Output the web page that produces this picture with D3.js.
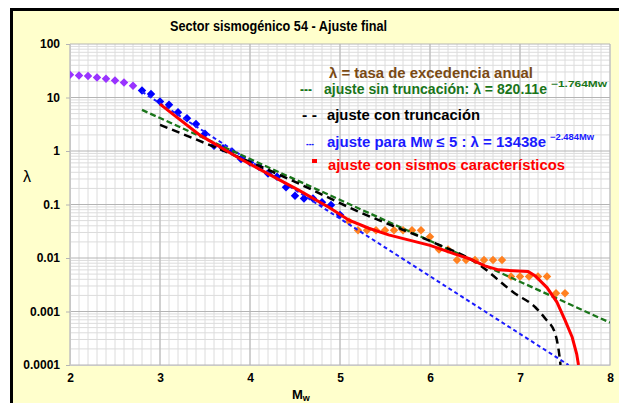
<!DOCTYPE html>
<html>
<head>
<meta charset="utf-8">
<script src="https://cdn.jsdelivr.net/npm/d3@7"></script>
<style>
body { margin: 0; background: #fff; }
text { font-family: "Liberation Sans", Arial, sans-serif; font-weight: bold; }
</style>
</head>
<body>
<script>
var magLow = [2.0, 2.1, 2.2, 2.3, 2.4, 2.5, 2.6, 2.7];
var rateLow = [26.6, 25.8, 25.1, 23.7, 22.4, 20.8, 19.1, 16.5];

var magMid = [2.8, 2.9, 3.0, 3.1, 3.2, 3.3, 3.4, 3.5, 3.6, 3.7, 3.8, 3.9,
  4.0, 4.1, 4.2, 4.3, 4.4, 4.5, 4.6, 4.7, 4.8, 4.9, 5.0];
var rateMid = [13.5, 11.6, 8.4, 7.3, 5.3, 4.1, 3.2, 2.1, 1.25, 1.13, 0.98, 0.71,
  0.61, 0.51, 0.38, 0.33, 0.21, 0.145, 0.13, 0.13, 0.11, 0.098, 0.064];

var magHigh = [5.1, 5.2, 5.3, 5.4, 5.5, 5.6, 5.7, 5.8, 5.9, 6.0, 6.1, 6.2,
  6.3, 6.4, 6.5, 6.6, 6.7, 6.8, 6.9, 7.0, 7.1, 7.2, 7.3, 7.4, 7.5];
var rateHigh = [0.048, 0.033, 0.033, 0.033, 0.033, 0.033, 0.033, 0.033, 0.033, 0.025, 0.0144, 0.0144,
  0.0092, 0.0092, 0.0092, 0.0092, 0.0092, 0.0092, 0.0045, 0.0045, 0.0045, 0.0045, 0.0045, 0.0022, 0.0022];

// fitted curves
var fitFreeMag = [2.8, 8.0];
var fitFreeRate = [5.87, 0.00062];

var fitLowMag = [2.8, 7.54];
var fitLowRate = [12.8, 0.0001];

var fitTruncMag = [3.0, 3.77, 4.45, 5.21, 6.06, 6.5, 6.94, 7.17, 7.28, 7.39, 7.44, 7.45];
var fitTruncRate = [3.08, 0.91, 0.29, 0.073, 0.0188, 0.0085, 0.0022, 0.0012, 0.00074, 0.00039, 0.00014, 0.0001];

var fitCharMag = [3.0, 3.44, 3.88, 4.54, 4.88, 5.1, 5.32, 5.54, 5.77, 6.0, 6.28, 6.43, 6.61, 6.76,
  7.09, 7.17, 7.3, 7.41, 7.5, 7.58, 7.63, 7.65];
var fitCharRate = [7.5, 2.0, 0.73, 0.186, 0.088, 0.051, 0.036, 0.027, 0.0216, 0.0172, 0.0118, 0.0098,
  0.0071, 0.006, 0.0056, 0.0046, 0.0028, 0.0015, 0.00069, 0.00033, 0.00016, 0.0001];

var xTicks = [2, 3, 4, 5, 6, 7, 8];
var yTicks = [0.0001, 0.001, 0.01, 0.1, 1, 10, 100];
var yTickLabels = ["0.0001", "0.001", "0.01", "0.1", "1", "10", "100"];

var margin = {top: 44, left: 70};
var width = 540;
var height = 321;

var svg = d3.select("body")
  .append("svg")
  .attr("width", 619)
  .attr("height", 403);

// outer frame
svg.append("rect")
  .attr("x", 11.5).attr("y", 9.5)
  .attr("width", 620).attr("height", 400)
  .attr("fill", "#FFFFCC")
  .attr("stroke", "#000")
  .attr("stroke-width", 3);

svg.append("text")
  .attr("x", 170).attr("y", 31)
  .attr("font-size", 14.5)
  .attr("textLength", 217)
  .attr("lengthAdjust", "spacingAndGlyphs")
  .text("Sector sismogénico 54 - Ajuste final");

var g = svg.append("g")
  .attr("transform", "translate(" + margin.left + "," + margin.top + ")");

var xScale = d3.scaleLinear().domain([2, 8]).range([0, width]);
var yScale = d3.scaleLog().domain([0.0001, 100]).range([height, 0]);

g.append("rect")
  .attr("width", width).attr("height", height)
  .attr("fill", "#fff");

// grid
var minorX = d3.range(20, 81).map(function(d) { return d / 10; });
var minorY = [];
[-4, -3, -2, -1, 0, 1].forEach(function(e) {
  for (var k = 2; k <= 9; k++) minorY.push(k * Math.pow(10, e));
});

g.selectAll(".minorx").data(minorX).enter().append("line")
  .attr("x1", function(d) { return xScale(d); })
  .attr("x2", function(d) { return xScale(d); })
  .attr("y1", 0).attr("y2", height)
  .attr("stroke", "#dcdcdc").attr("stroke-width", 1);

g.selectAll(".minory").data(minorY).enter().append("line")
  .attr("y1", function(d) { return yScale(d); })
  .attr("y2", function(d) { return yScale(d); })
  .attr("x1", 0).attr("x2", width)
  .attr("stroke", "#dcdcdc").attr("stroke-width", 1);

g.selectAll(".majorx").data(xTicks).enter().append("line")
  .attr("x1", function(d) { return xScale(d); })
  .attr("x2", function(d) { return xScale(d); })
  .attr("y1", 0).attr("y2", height)
  .attr("stroke", "#b4b4b4").attr("stroke-width", 1);

g.selectAll(".majory").data(yTicks).enter().append("line")
  .attr("y1", function(d) { return yScale(d); })
  .attr("y2", function(d) { return yScale(d); })
  .attr("x1", 0).attr("x2", width)
  .attr("stroke", "#b4b4b4").attr("stroke-width", 1);

// axes
var xAxis = d3.axisBottom(xScale).tickValues(xTicks).tickSize(0).tickPadding(8)
  .tickFormat(d3.format("d"));
var yAxis = d3.axisLeft(yScale).tickValues(yTicks).tickSize(4).tickPadding(6)
  .tickFormat(function(d, i) { return yTickLabels[i]; });

var gx = g.append("g")
  .attr("transform", "translate(0," + height + ")")
  .call(xAxis);
var gy = g.append("g").call(yAxis);

[gx, gy].forEach(function(ax) {
  ax.select(".domain").attr("stroke", "#c8c8c8");
  ax.selectAll(".tick line").attr("stroke", "#b4b4b4");
  ax.selectAll("text")
    .attr("font-size", 12)
    .attr("fill", "#000")
    .style("font-family", "\"Liberation Sans\", Arial, sans-serif")
    .style("font-weight", "bold");
});

svg.append("text")
  .attr("x", 23).attr("y", 182)
  .attr("font-size", 16)
  .style("font-weight", "normal")
  .text("λ");

var mw = svg.append("text").attr("x", 292).attr("y", 399).attr("font-size", 13);
mw.append("tspan").text("M");
mw.append("tspan").attr("font-size", 9).attr("dy", 2).text("w");

// markers
var clip = g.append("clipPath").attr("id", "plotclip");
clip.append("rect").attr("width", width).attr("height", height);

var plot = g.append("g").attr("clip-path", "url(#plotclip)");

var diamond = d3.symbol().type(d3.symbolSquare).size(36);

function drawPoints(mags, rates, color) {
  plot.append("g").selectAll("path")
    .data(d3.zip(mags, rates))
    .enter().append("path")
    .attr("d", diamond)
    .attr("fill", color)
    .attr("transform", function(d) {
      return "translate(" + xScale(d[0]) + "," + yScale(d[1]) + ") rotate(45)";
    });
}

drawPoints(magLow, rateLow, "#9933FF");
drawPoints(magMid, rateMid, "#0000FF");
drawPoints(magHigh, rateHigh, "#FF8020");

var line = d3.line()
  .x(function(d) { return xScale(d[0]); })
  .y(function(d) { return yScale(d[1]); });

function drawLine(mags, rates, color, w, dash, curve) {
  plot.append("path")
    .datum(d3.zip(mags, rates))
    .attr("fill", "none")
    .attr("stroke", color)
    .attr("stroke-width", w)
    .attr("stroke-dasharray", dash)
    .attr("d", line.curve(curve || d3.curveLinear));
}

drawLine(fitLowMag, fitLowRate, "#1a1aff", 2, "4,3");
drawLine(fitFreeMag, fitFreeRate, "#1a751a", 2.3, "6,3");
drawLine(fitTruncMag, fitTruncRate, "#000", 2.5, "8,5", d3.curveMonotoneX);
drawLine(fitCharMag, fitCharRate, "#ff0000", 3, null);

// legend
function legendText(x, y, len, color, str, size) {
  return svg.append("text")
    .attr("x", x).attr("y", y)
    .attr("font-size", size || 14.5)
    .attr("fill", color)
    .attr("textLength", len)
    .attr("lengthAdjust", "spacingAndGlyphs")
    .text(str);
}

legendText(329, 78, 204, "#7a4a14", "λ = tasa de excedencia anual");

legendText(300, 94, 12, "#1a751a", "---");
legendText(324, 94, 223, "#1a751a", "ajuste sin truncación: λ = 820.11e");
legendText(551, 87, 56, "#1a751a", "−1.764Mw", 9);

legendText(302, 120, 15, "#000", "- -");
legendText(327, 120, 153, "#000", "ajuste con truncación");

legendText(306, 147, 8, "#1a1aff", "---", 10);
var l4 = svg.append("text")
  .attr("x", 327).attr("y", 147)
  .attr("font-size", 14.5)
  .attr("fill", "#1a1aff")
  .attr("textLength", 219)
  .attr("lengthAdjust", "spacingAndGlyphs");
l4.append("tspan").text("ajuste para M");
l4.append("tspan").attr("font-size", 10).text("W");
l4.append("tspan").text(" ≤ 5 : λ = 13438e");
legendText(550, 140, 44, "#1a1aff", "−2.484Mw", 9);

svg.append("rect")
  .attr("x", 312).attr("y", 159)
  .attr("width", 5).attr("height", 4)
  .attr("fill", "#ff0000");
legendText(328, 170, 237, "#ff0000", "ajuste con sismos característicos");
</script>
</body>
</html>
